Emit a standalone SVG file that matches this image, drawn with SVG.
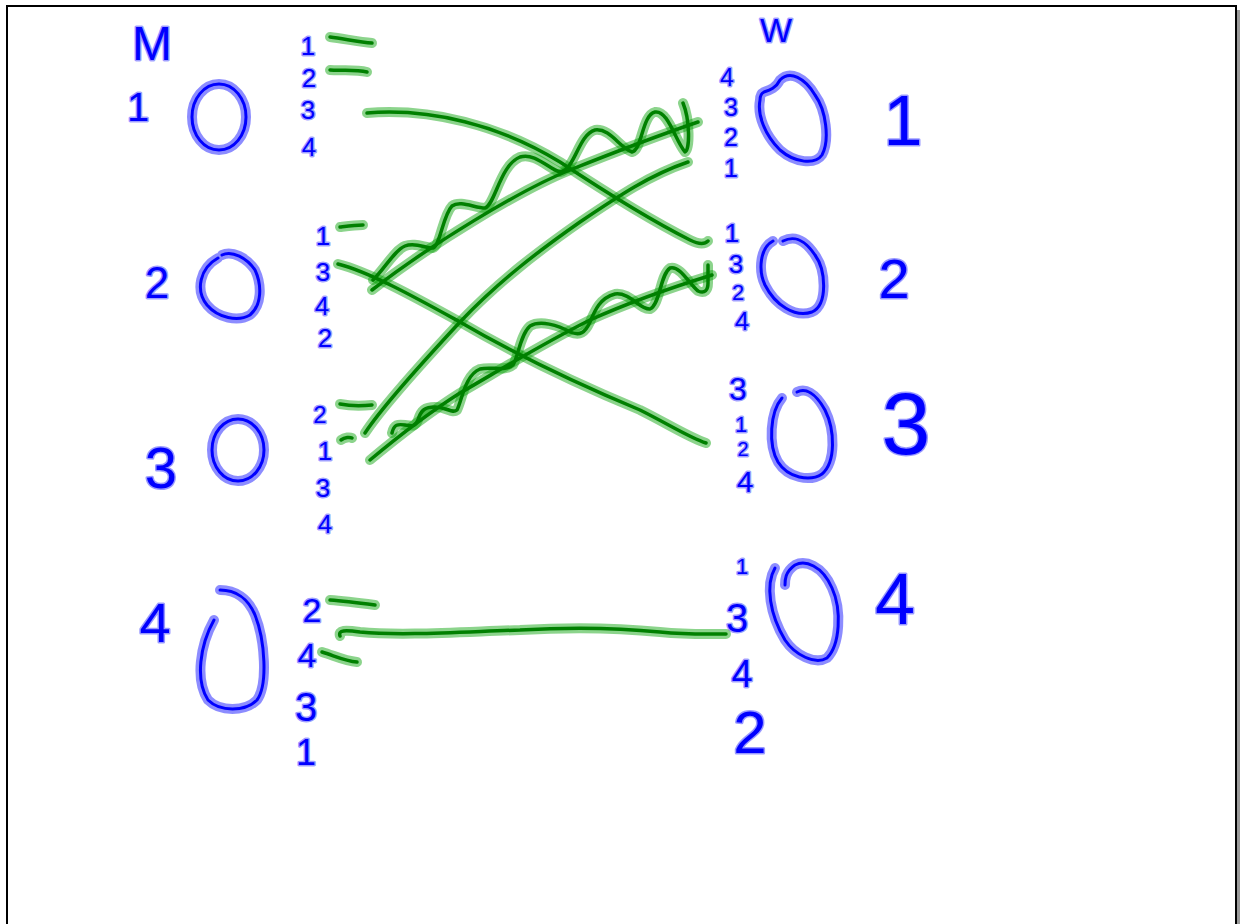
<svg xmlns="http://www.w3.org/2000/svg" width="1240" height="924" viewBox="0 0 1240 924">
<style>
.ink{fill:none;stroke:#0000ff;stroke-width:3;stroke-linecap:round;stroke-linejoin:round}
.inkh{fill:none;stroke:#0000ff;stroke-opacity:0.45;stroke-width:10;stroke-linecap:round;stroke-linejoin:round}
.t{font-family:"Liberation Sans",Arial,sans-serif;fill:#0000ff;stroke:#0000ff;stroke-opacity:0.4;stroke-width:3;paint-order:stroke;stroke-linejoin:round;text-anchor:middle}
.s{font-size:26px}
.g{fill:none;stroke:#008000;stroke-width:3.5;stroke-linecap:round;stroke-linejoin:round}
.gh{fill:none;stroke:#00a000;stroke-opacity:0.45;stroke-width:10;stroke-linecap:round;stroke-linejoin:round}
</style>
<rect x="0" y="0" width="1240" height="924" fill="#ffffff"/>
<rect x="1236" y="10" width="4" height="914" fill="#9a9a9a"/>
<rect x="7" y="6" width="1229" height="940" fill="none" stroke="#000000" stroke-width="2"/>

<text class="t" x="152" y="60" font-size="48">M</text>
<text class="t" x="776" y="42" font-size="34">W</text>

<g id="m1">
<ellipse class="inkh" cx="219" cy="117" rx="27" ry="33"/>
<ellipse class="ink" cx="219" cy="117" rx="27" ry="33"/>
<text class="t" x="138" y="121" font-size="40">1</text>
<text class="t s" x="308" y="55">1</text>
<text class="t s" x="309" y="87">2</text>
<text class="t s" x="308" y="119">3</text>
<text class="t s" x="309" y="156">4</text>
</g>
<g id="m2">
<path class="inkh" d="M218,258 C200,268 195,290 207,305 C218,318 238,322 250,315 C262,305 262,285 255,270 C247,258 232,250 222,255"/>
<path class="ink" d="M218,258 C200,268 195,290 207,305 C218,318 238,322 250,315 C262,305 262,285 255,270 C247,258 232,250 222,255"/>
<text class="t" x="157" y="298" font-size="44">2</text>
<text class="t s" x="323" y="245">1</text>
<text class="t s" x="323" y="281">3</text>
<text class="t s" x="322" y="315">4</text>
<text class="t s" x="325" y="347">2</text>
</g>
<g id="m3">
<ellipse class="inkh" cx="238" cy="450" rx="26" ry="31"/>
<ellipse class="ink" cx="238" cy="450" rx="26" ry="31"/>
<text class="t" x="161" y="488" font-size="58">3</text>
<text class="t" x="320" y="423" font-size="24">2</text>
<text class="t s" x="325" y="460">1</text>
<text class="t s" x="323" y="497">3</text>
<text class="t s" x="325" y="533">4</text>
</g>
<g id="m4">
<path class="inkh" d="M214,620 C200,645 195,680 208,700 C220,712 245,712 257,700 C268,685 265,640 255,615 C248,598 235,590 220,590"/>
<path class="ink" d="M214,620 C200,645 195,680 208,700 C220,712 245,712 257,700 C268,685 265,640 255,615 C248,598 235,590 220,590"/>
<text class="t" x="155" y="642" font-size="56">4</text>
<text class="t" x="312" y="622" font-size="34">2</text>
<text class="t" x="307" y="667" font-size="34">4</text>
<text class="t" x="306" y="721" font-size="40">3</text>
<text class="t" x="306" y="765" font-size="36">1</text>
</g>

<g id="w1">
<path class="inkh" d="M760,100 C757,115 765,135 780,150 C795,163 815,165 822,155 C830,140 826,110 815,95 C805,78 790,70 780,80 C776,88 770,90 764,92 C760,94 760,97 760,100 Z"/>
<path class="ink" d="M760,100 C757,115 765,135 780,150 C795,163 815,165 822,155 C830,140 826,110 815,95 C805,78 790,70 780,80 C776,88 770,90 764,92 C760,94 760,97 760,100 Z"/>
<text class="t" x="903" y="145" font-size="70">1</text>
<text class="t" x="727" y="86" font-size="25">4</text>
<text class="t" x="731" y="116" font-size="25">3</text>
<text class="t" x="731" y="146" font-size="25">2</text>
<text class="t" x="731" y="177" font-size="25">1</text>
</g>
<g id="w2">
<path class="inkh" d="M773,241 C760,248 758,270 765,285 C775,305 795,318 812,312 C828,305 826,270 815,255 C805,240 795,235 783,241"/>
<path class="ink" d="M773,241 C760,248 758,270 765,285 C775,305 795,318 812,312 C828,305 826,270 815,255 C805,240 795,235 783,241"/>
<text class="t" x="894" y="298" font-size="56">2</text>
<text class="t" x="732" y="242" font-size="26">1</text>
<text class="t" x="736" y="273" font-size="26">3</text>
<text class="t" x="738" y="300" font-size="22">2</text>
<text class="t" x="742" y="330" font-size="26">4</text>
</g>
<g id="w3">
<path class="inkh" d="M782,398 C770,412 768,445 778,462 C788,478 810,482 822,474 C836,462 835,430 825,410 C815,392 805,388 797,392"/>
<path class="ink" d="M782,398 C770,412 768,445 778,462 C788,478 810,482 822,474 C836,462 835,430 825,410 C815,392 805,388 797,392"/>
<text class="t" x="906" y="454" font-size="88">3</text>
<text class="t" x="738" y="400" font-size="32">3</text>
<text class="t" x="741" y="432" font-size="22">1</text>
<text class="t" x="743" y="456" font-size="20">2</text>
<text class="t" x="745" y="492" font-size="30">4</text>
</g>
<g id="w4">
<path class="inkh" d="M775,568 C765,585 770,615 785,640 C795,655 815,665 827,658 C840,645 842,610 832,588 C822,565 805,560 795,565 C785,572 785,580 785,585"/>
<path class="ink" d="M775,568 C765,585 770,615 785,640 C795,655 815,665 827,658 C840,645 842,610 832,588 C822,565 805,560 795,565 C785,572 785,580 785,585"/>
<text class="t" x="895" y="624" font-size="72">4</text>
<text class="t" x="742" y="574" font-size="22">1</text>
<text class="t" x="737" y="632" font-size="40">3</text>
<text class="t" x="742" y="687" font-size="38">4</text>
<text class="t" x="750" y="753" font-size="60">2</text>
</g>

<g id="connectors">
<g class="gh">
<path d="M330,37 C345,39 360,42 372,43"/>
<path d="M330,70 C340,71 355,69 367,72"/>
<path d="M340,227 C348,226 355,225 363,225"/>
<path d="M340,404 C350,406 362,406 372,405"/>
<path d="M341,440 C345,437 350,437 352,438"/>
<path d="M330,600 C345,601 360,603 375,605"/>
<path d="M322,652 C335,656 345,661 357,662"/>
<path d="M367,113 C430,108 500,125 560,162 C610,195 650,220 690,240 C700,245 705,244 708,241"/>
<path d="M338,264 C370,272 420,300 460,322 C520,357 580,385 640,410 C670,425 690,438 706,443"/>
<path d="M372,290 C430,245 520,190 570,170 C620,150 660,135 698,122"/>
<path d="M373,280 C385,268 395,250 405,246 C415,242 425,248 433,248 C440,246 443,215 452,206 C460,200 475,208 485,208 C495,205 500,165 520,157 C535,152 550,170 560,172 C575,170 578,135 595,130 C610,128 620,148 632,152 C642,150 642,115 655,112 C668,110 675,140 685,152 C690,150 690,120 683,103"/>
<path d="M365,433 C380,410 420,365 460,322 C500,280 540,250 580,222 C620,195 650,175 688,162"/>
<path d="M370,460 C400,435 430,412 460,393 C500,370 540,345 590,320 C630,302 670,288 712,275"/>
<path d="M392,433 C394,424 398,424 405,425 C412,426 415,427 418,420 C421,410 425,407 435,407 C447,407 452,414 457,410 C462,400 465,375 480,369 C492,366 505,372 513,365 C518,358 520,335 530,326 C540,320 558,325 570,332 C580,336 585,333 590,322 C595,310 600,298 615,294 C630,292 640,310 650,309 C660,305 660,275 670,268 C680,265 690,285 698,291 C705,294 708,290 708,283 L708,265"/>
<path d="M340,636 C338,630 345,630 360,632 C400,636 460,632 520,630 C570,627 620,628 660,632 C690,635 710,634 726,634"/>
</g>
<g class="g">
<path d="M330,37 C345,39 360,42 372,43"/>
<path d="M330,70 C340,71 355,69 367,72"/>
<path d="M340,227 C348,226 355,225 363,225"/>
<path d="M340,404 C350,406 362,406 372,405"/>
<path d="M341,440 C345,437 350,437 352,438"/>
<path d="M330,600 C345,601 360,603 375,605"/>
<path d="M322,652 C335,656 345,661 357,662"/>
<path d="M367,113 C430,108 500,125 560,162 C610,195 650,220 690,240 C700,245 705,244 708,241"/>
<path d="M338,264 C370,272 420,300 460,322 C520,357 580,385 640,410 C670,425 690,438 706,443"/>
<path d="M372,290 C430,245 520,190 570,170 C620,150 660,135 698,122"/>
<path d="M373,280 C385,268 395,250 405,246 C415,242 425,248 433,248 C440,246 443,215 452,206 C460,200 475,208 485,208 C495,205 500,165 520,157 C535,152 550,170 560,172 C575,170 578,135 595,130 C610,128 620,148 632,152 C642,150 642,115 655,112 C668,110 675,140 685,152 C690,150 690,120 683,103"/>
<path d="M365,433 C380,410 420,365 460,322 C500,280 540,250 580,222 C620,195 650,175 688,162"/>
<path d="M370,460 C400,435 430,412 460,393 C500,370 540,345 590,320 C630,302 670,288 712,275"/>
<path d="M392,433 C394,424 398,424 405,425 C412,426 415,427 418,420 C421,410 425,407 435,407 C447,407 452,414 457,410 C462,400 465,375 480,369 C492,366 505,372 513,365 C518,358 520,335 530,326 C540,320 558,325 570,332 C580,336 585,333 590,322 C595,310 600,298 615,294 C630,292 640,310 650,309 C660,305 660,275 670,268 C680,265 690,285 698,291 C705,294 708,290 708,283 L708,265"/>
<path d="M340,636 C338,630 345,630 360,632 C400,636 460,632 520,630 C570,627 620,628 660,632 C690,635 710,634 726,634"/>
</g>
</g>
</svg>
